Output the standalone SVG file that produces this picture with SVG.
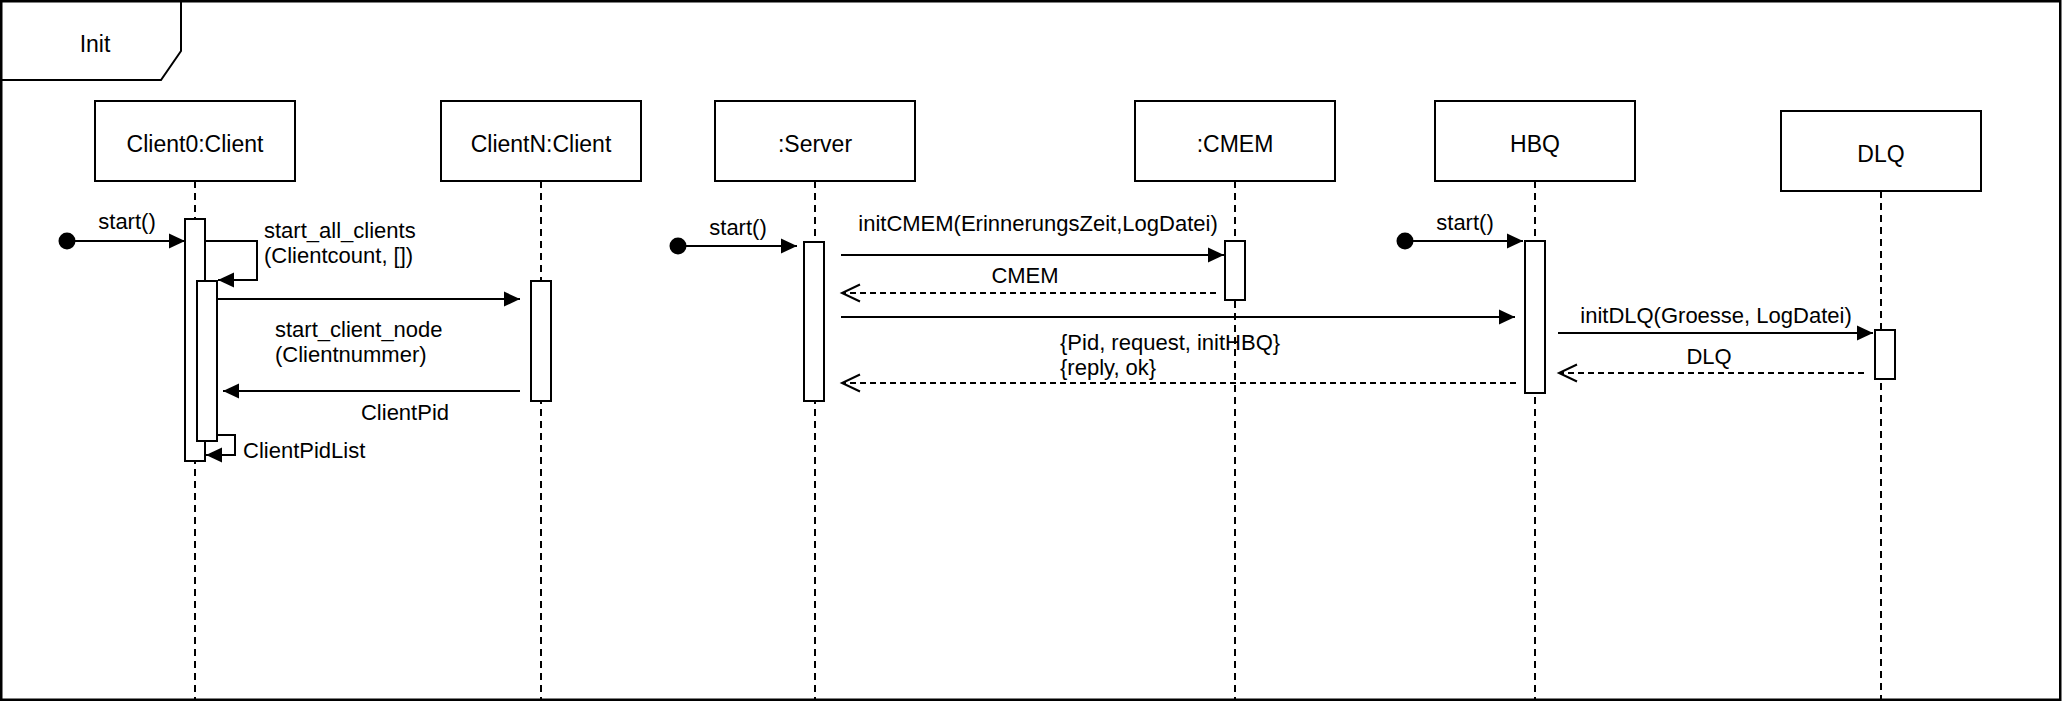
<svg xmlns="http://www.w3.org/2000/svg" width="2062" height="702" viewBox="0 0 2062 702">
<style>
  .frame { fill: #ffffff; stroke: #000; stroke-width: 2.5; }
  .box { fill: #ffffff; stroke: #000; stroke-width: 2; }
  .life { stroke: #000; stroke-width: 2; stroke-dasharray: 7 5; fill: none; }
  .act { fill: #ffffff; stroke: #000; stroke-width: 2; }
  .msg { stroke: #000; stroke-width: 2; fill: none; }
  .ret { stroke: #000; stroke-width: 2; fill: none; stroke-dasharray: 6 4; }
  .lbl { font-family: "Liberation Sans", Arial, sans-serif; font-size: 23px; fill: #000; text-anchor: middle; }
  .txt { font-family: "Liberation Sans", Arial, sans-serif; font-size: 22px; fill: #000; }
  .mid { text-anchor: middle; }
</style>
<defs>
  <marker id="filled" markerUnits="userSpaceOnUse" markerWidth="16" markerHeight="15" refX="16" refY="7.5" orient="auto" overflow="visible">
    <path d="M0,0 L16,7.5 L0,15 z" fill="#000"/>
  </marker>
  <marker id="open" markerUnits="userSpaceOnUse" markerWidth="18" markerHeight="17" refX="18" refY="8.5" orient="auto" overflow="visible">
    <path d="M0,0 L18,8.5 L0,17" fill="none" stroke="#000" stroke-width="2"/>
  </marker>
</defs>

<rect class="frame" x="1.25" y="1.25" width="2059" height="698.5"/>
<g id="frame-tab">
  <path d="M1.25,80 H161 L181,51 V1.25" fill="none" stroke="#000" stroke-width="2"/>
  <text class="lbl" x="95" y="52">Init</text>
</g>

<g id="client0">
  <line class="life" x1="195" y1="181" x2="195" y2="699"/>
  <rect class="box" x="95" y="101" width="200" height="80"/>
  <text class="lbl" x="195" y="152">Client0:Client</text>
  <rect class="act" x="185" y="219" width="20" height="242"/>
  <rect class="act" x="197" y="281" width="20" height="160"/>
</g>

<g id="clientN">
  <line class="life" x1="541" y1="181" x2="541" y2="699"/>
  <rect class="box" x="441" y="101" width="200" height="80"/>
  <text class="lbl" x="541" y="152">ClientN:Client</text>
  <rect class="act" x="531" y="281" width="20" height="120"/>
</g>

<g id="server">
  <line class="life" x1="815" y1="181" x2="815" y2="699"/>
  <rect class="box" x="715" y="101" width="200" height="80"/>
  <text class="lbl" x="815" y="152">:Server</text>
  <rect class="act" x="804" y="242" width="20" height="159"/>
</g>

<g id="cmem">
  <line class="life" x1="1235" y1="181" x2="1235" y2="699"/>
  <rect class="box" x="1135" y="101" width="200" height="80"/>
  <text class="lbl" x="1235" y="152">:CMEM</text>
  <rect class="act" x="1225" y="241" width="20" height="59"/>
</g>

<g id="hbq">
  <line class="life" x1="1535" y1="181" x2="1535" y2="699"/>
  <rect class="box" x="1435" y="101" width="200" height="80"/>
  <text class="lbl" x="1535" y="152">HBQ</text>
  <rect class="act" x="1525" y="241" width="20" height="152"/>
</g>

<g id="dlq">
  <line class="life" x1="1881" y1="191" x2="1881" y2="699"/>
  <rect class="box" x="1781" y="111" width="200" height="80"/>
  <text class="lbl" x="1881" y="162">DLQ</text>
  <rect class="act" x="1875" y="330" width="20" height="49"/>
</g>

<g id="connectors">
  <!-- Client0 start -->
  <circle cx="67" cy="241" r="8.5" fill="#000"/>
  <line class="msg" x1="67" y1="241" x2="185" y2="241" marker-end="url(#filled)"/>
  <text class="txt mid" x="127" y="229">start()</text>

  <!-- start_all_clients self call -->
  <path class="msg" d="M205,241 H257 V280 H218" marker-end="url(#filled)"/>
  <text class="txt" x="264" y="238">start_all_clients</text>
  <text class="txt" x="264" y="263">(Clientcount, [])</text>

  <!-- start_client_node -->
  <line class="msg" x1="217" y1="299" x2="520" y2="299" marker-end="url(#filled)"/>
  <text class="txt" x="275" y="337">start_client_node</text>
  <text class="txt" x="275" y="362">(Clientnummer)</text>

  <!-- ClientPid -->
  <line class="msg" x1="520" y1="391" x2="223" y2="391" marker-end="url(#filled)"/>
  <text class="txt mid" x="405" y="420">ClientPid</text>

  <!-- ClientPidList self -->
  <path class="msg" d="M217,435 H235 V455 H206" marker-end="url(#filled)"/>
  <text class="txt" x="243" y="458">ClientPidList</text>

  <!-- Server start -->
  <circle cx="678" cy="246" r="8.5" fill="#000"/>
  <line class="msg" x1="678" y1="246" x2="797" y2="246" marker-end="url(#filled)"/>
  <text class="txt mid" x="738" y="235">start()</text>

  <!-- initCMEM -->
  <line class="msg" x1="841" y1="255" x2="1224" y2="255" marker-end="url(#filled)"/>
  <text class="txt mid" x="1038" y="231">initCMEM(ErinnerungsZeit,LogDatei)</text>

  <!-- CMEM return -->
  <line class="ret" x1="1216" y1="293" x2="842" y2="293" marker-end="url(#open)"/>
  <text class="txt mid" x="1025" y="283">CMEM</text>

  <!-- Server to HBQ -->
  <line class="msg" x1="841" y1="317" x2="1515" y2="317" marker-end="url(#filled)"/>
  <text class="txt" x="1060" y="350">{Pid, request, initHBQ}</text>
  <text class="txt" x="1060" y="375">{reply, ok}</text>

  <!-- HBQ return -->
  <line class="ret" x1="1516" y1="383" x2="842" y2="383" marker-end="url(#open)"/>

  <!-- HBQ start -->
  <circle cx="1405" cy="241" r="8.5" fill="#000"/>
  <line class="msg" x1="1405" y1="241" x2="1523" y2="241" marker-end="url(#filled)"/>
  <text class="txt mid" x="1465" y="230">start()</text>

  <!-- initDLQ -->
  <line class="msg" x1="1558" y1="333" x2="1873" y2="333" marker-end="url(#filled)"/>
  <text class="txt mid" x="1716" y="323">initDLQ(Groesse, LogDatei)</text>

  <!-- DLQ return -->
  <line class="ret" x1="1864" y1="373" x2="1559" y2="373" marker-end="url(#open)"/>
  <text class="txt mid" x="1709" y="364">DLQ</text>
</g>
</svg>
